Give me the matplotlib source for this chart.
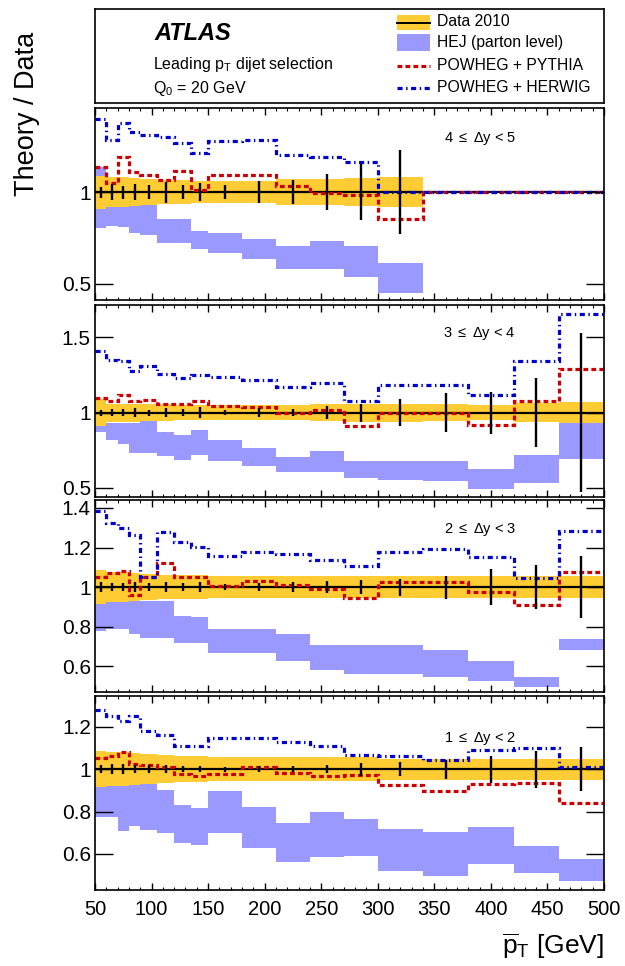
import numpy as np
import matplotlib.pyplot as plt
from matplotlib.patches import Rectangle
from matplotlib.lines import Line2D
from matplotlib.ticker import MultipleLocator, FixedLocator, FuncFormatter

plt.rcParams['font.family'] = ['Liberation Sans', 'DejaVu Sans']
plt.rcParams['mathtext.fontset'] = 'custom'
plt.rcParams['mathtext.rm'] = 'Liberation Sans'
plt.rcParams['mathtext.it'] = 'Liberation Sans:italic'
plt.rcParams['mathtext.default'] = 'regular'

# pT bin edges [GeV]
edges = [50, 60, 70, 80, 90, 105, 120, 135, 150, 180, 210, 240, 270, 300, 340, 380, 420, 460, 500]

# 4 <= dy < 5 (data only up to 340 GeV)
stat_45 = [0.03, 0.042, 0.036, 0.044, 0.037, 0.057, 0.038, 0.05, 0.037, 0.06, 0.064, 0.1, 0.153, 0.23]
syst_45 = [0.09, 0.08, 0.08, 0.075, 0.07, 0.065, 0.065, 0.06, 0.06, 0.06, 0.07, 0.07, 0.075, 0.08]
hej_lo_45 = [0.806, 0.815, 0.81, 0.776, 0.768, 0.724, 0.724, 0.691, 0.667, 0.636, 0.581, 0.581, 0.538, 0.447]
hej_hi_45 = [1.136, 0.93, 0.93, 0.934, 0.934, 0.855, 0.855, 0.787, 0.776, 0.746, 0.703, 0.731, 0.703, 0.614]
pythia_45 = [1.139, 1.051, 1.194, 1.112, 1.093, 1.066, 1.115, 1.011, 1.093, 1.093, 1.035, 0.993, 0.984, 0.852, 1, 1, 1, 1]
herwig_45 = [1.40, 1.286, 1.377, 1.33, 1.313, 1.299, 1.267, 1.212, 1.277, 1.286, 1.203, 1.19, 1.167, 1.0, 1, 1, 1, 1]

# 3 <= dy < 4
stat_34 = [0.02, 0.025, 0.025, 0.03, 0.02, 0.03, 0.025, 0.035, 0.015, 0.03, 0.025, 0.045, 0.06, 0.09, 0.13, 0.14, 0.23, 0.53]
syst_34 = [0.09, 0.06, 0.06, 0.06, 0.055, 0.055, 0.05, 0.05, 0.05, 0.05, 0.05, 0.055, 0.06, 0.06, 0.055, 0.05, 0.065, 0.07]
hej_lo_34 = [0.87, 0.821, 0.795, 0.733, 0.733, 0.711, 0.689, 0.722, 0.682, 0.645, 0.605, 0.605, 0.567, 0.556, 0.545, 0.49, 0.534, 0.693]
hej_hi_34 = [0.93, 0.93, 0.93, 0.93, 0.943, 0.872, 0.85, 0.883, 0.821, 0.766, 0.706, 0.744, 0.678, 0.682, 0.678, 0.627, 0.717, 0.95]
pythia_34 = [1.097, 1.075, 1.119, 1.075, 1.086, 1.06, 1.057, 1.075, 1.046, 1.037, 0.998, 1.015, 0.914, 0.998, 0.998, 0.92, 1.075, 1.289]
herwig_34 = [1.41, 1.351, 1.34, 1.274, 1.307, 1.258, 1.23, 1.252, 1.236, 1.219, 1.17, 1.2, 1.075, 1.185, 1.185, 1.119, 1.34, 1.656]

# 2 <= dy < 3
stat_23 = [0.024, 0.022, 0.022, 0.027, 0.02, 0.025, 0.02, 0.025, 0.015, 0.02, 0.025, 0.03, 0.034, 0.043, 0.058, 0.09, 0.11, 0.155]
syst_23 = [0.085, 0.075, 0.075, 0.07, 0.065, 0.06, 0.06, 0.06, 0.055, 0.055, 0.055, 0.055, 0.055, 0.055, 0.055, 0.055, 0.055, 0.055]
hej_lo_23 = [0.776, 0.788, 0.788, 0.764, 0.745, 0.745, 0.716, 0.716, 0.668, 0.668, 0.627, 0.58, 0.562, 0.562, 0.545, 0.525, 0.497, 0.682]
hej_hi_23 = [0.93, 0.93, 0.93, 0.93, 0.93, 0.93, 0.856, 0.85, 0.788, 0.788, 0.764, 0.708, 0.708, 0.708, 0.682, 0.627, 0.545, 0.737]
pythia_23 = [1.053, 1.072, 1.08, 0.96, 1.05, 1.123, 1.05, 1.05, 1.007, 1.032, 1.012, 0.99, 0.947, 1.027, 1.027, 0.973, 0.908, 1.075]
herwig_23 = [1.383, 1.323, 1.297, 1.263, 1.05, 1.28, 1.229, 1.203, 1.157, 1.178, 1.169, 1.135, 1.109, 1.178, 1.191, 1.152, 1.044, 1.284]

# 1 <= dy < 2
stat_12 = [0.02, 0.025, 0.025, 0.02, 0.02, 0.02, 0.015, 0.015, 0.012, 0.015, 0.015, 0.02, 0.03, 0.032, 0.045, 0.063, 0.087, 0.105]
syst_12 = [0.085, 0.08, 0.08, 0.075, 0.07, 0.065, 0.06, 0.06, 0.055, 0.055, 0.055, 0.055, 0.055, 0.05, 0.05, 0.05, 0.05, 0.05]
hej_lo_12 = [0.773, 0.773, 0.71, 0.733, 0.714, 0.70, 0.654, 0.641, 0.70, 0.627, 0.563, 0.587, 0.59, 0.519, 0.495, 0.551, 0.511, 0.471]
hej_hi_12 = [0.93, 0.93, 0.93, 0.935, 0.935, 0.9, 0.832, 0.816, 0.895, 0.821, 0.746, 0.8, 0.765, 0.72, 0.702, 0.725, 0.638, 0.575]
pythia_12 = [1.051, 1.063, 1.083, 1.022, 1.019, 1.011, 0.975, 0.967, 0.975, 1.011, 0.984, 0.968, 0.971, 0.927, 0.898, 0.932, 0.935, 0.841]
herwig_12 = [1.281, 1.249, 1.225, 1.25, 1.181, 1.162, 1.111, 1.111, 1.146, 1.146, 1.13, 1.11, 1.067, 1.063, 1.043, 1.09, 1.098, 1.011]

labels = ['4 $\\leq$ $\\Delta$y < 5', '3 $\\leq$ $\\Delta$y < 4', '2 $\\leq$ $\\Delta$y < 3', '1 $\\leq$ $\\Delta$y < 2']
ylims = [(0.41, 1.46), (0.44, 1.715), (0.47, 1.44), (0.43, 1.345)]
yticks = [[0.5, 1], [0.5, 1, 1.5], [0.6, 0.8, 1, 1.2, 1.4], [0.6, 0.8, 1, 1.2]]

YEL = '#ffcc33'
HEJC = '#9999ff'
RED = '#cc0000'
BLUE = '#0000cc'
red_ls = (0, (1.5, 1.0))
blue_ls = (0, (1.6, 1.1, 0.45, 1.1))

fig = plt.figure(figsize=(6.25, 9.66), dpi=100)
W, H = 625., 966.
left = 95 / W
width = (604 - 95) / W

# pixel rows of the four ratio panels
rows = [(108, 300), (305, 497), (500, 692), (696, 890)]

panel_data = [
    (stat_45, syst_45, hej_lo_45, hej_hi_45, pythia_45, herwig_45),
    (stat_34, syst_34, hej_lo_34, hej_hi_34, pythia_34, herwig_34),
    (stat_23, syst_23, hej_lo_23, hej_hi_23, pythia_23, herwig_23),
    (stat_12, syst_12, hej_lo_12, hej_hi_12, pythia_12, herwig_12),
]
label_y = [0.839, 0.849, 0.844, 0.78]

e = np.array(edges, dtype=float)
centers = 0.5 * (e[:-1] + e[1:])

for i, (stat, syst, hlo, hhi, pyt, hrw) in enumerate(panel_data):
    top, bot = rows[i]
    ax = fig.add_axes([left, 1 - bot / H, width, (bot - top) / H])
    n = len(stat)
    stat = np.array(stat)
    syst = np.array(syst)
    ax.stairs(hhi, e[:len(hhi) + 1], baseline=hlo, fill=True, color=HEJC, lw=0)
    ax.stairs(1 + syst, e[:n + 1], baseline=1 - syst, fill=True, color=YEL, lw=0)
    ax.stairs(np.ones(len(e) - 1), e, baseline=None, color='k', lw=1.6)
    ax.vlines(centers[:n], 1 - stat, 1 + stat, color='k', lw=1.7)
    ax.stairs(pyt, e, baseline=None, color=RED, lw=2.3, linestyle=red_ls)
    ax.stairs(hrw, e, baseline=None, color=BLUE, lw=2.3, linestyle=blue_ls)

    ax.set_xlim(50, 500)
    ax.set_ylim(*ylims[i])
    ax.xaxis.set_major_locator(MultipleLocator(50))
    ax.xaxis.set_minor_locator(MultipleLocator(10))
    ax.yaxis.set_major_locator(FixedLocator(yticks[i]))
    ax.yaxis.set_major_formatter(FuncFormatter(lambda v, p: f'{v:g}'))
    ax.tick_params(axis='x', which='major', direction='in', top=True, length=5, width=1, labelsize=14.5, pad=7)
    ax.tick_params(axis='x', which='minor', direction='in', top=True, length=2.5, width=0.8)
    ax.tick_params(axis='y', which='major', direction='in', right=True, length=13, width=1, labelsize=15, pad=3)
    for s in ax.spines.values():
        s.set_linewidth(1.2)
    if i < 3:
        ax.tick_params(axis='x', labelbottom=False)
    ax.text(0.756, label_y[i], labels[i], transform=ax.transAxes, ha='center', va='center', fontsize=10.5)

# header box with ATLAS label and legend
hb = fig.add_axes([left, 1 - 103 / H, width, 94 / H])
hb.set_xlim(95, 604)
hb.set_ylim(103, 9)
hb.set_xticks([])
hb.set_yticks([])
for s in hb.spines.values():
    s.set_linewidth(1.2)
hb.text(154, 33, 'ATLAS', fontsize=17, fontweight='bold', fontstyle='italic', va='center')
hb.text(153, 65, 'Leading p$_\\mathrm{T}$ dijet selection', fontsize=11.5, va='center')
hb.text(153, 88, 'Q$_\\mathrm{0}$ = 20 GeV', fontsize=11.5, va='center')

hb.add_patch(Rectangle((397, 15), 33, 15, color=YEL, lw=0))
hb.add_line(Line2D([397, 430], [22.5, 22.5], color='k', lw=1.4))
hb.add_patch(Rectangle((397, 34), 33, 17, color=HEJC, lw=0))
hb.add_line(Line2D([397, 430], [66, 66], color=RED, lw=2.3, linestyle=red_ls))
hb.add_line(Line2D([397, 430], [88, 88], color=BLUE, lw=2.3, linestyle=blue_ls))
leg_txt = ['Data 2010', 'HEJ (parton level)', 'POWHEG + PYTHIA', 'POWHEG + HERWIG']
for t, yy in zip(leg_txt, [22, 43, 66, 88]):
    hb.text(437, yy, t, fontsize=11.3, va='center')

fig.text(27 / W, 1 - 114 / H, 'Theory / Data', rotation=90, ha='center', va='center', fontsize=19.5)
fig.text(604 / W, 1 - 946 / H, '$\\overline{\\mathrm{p}}_\\mathrm{T}$ [GeV]', ha='right', va='center', fontsize=19)

fig.savefig('out.png', dpi=100)
